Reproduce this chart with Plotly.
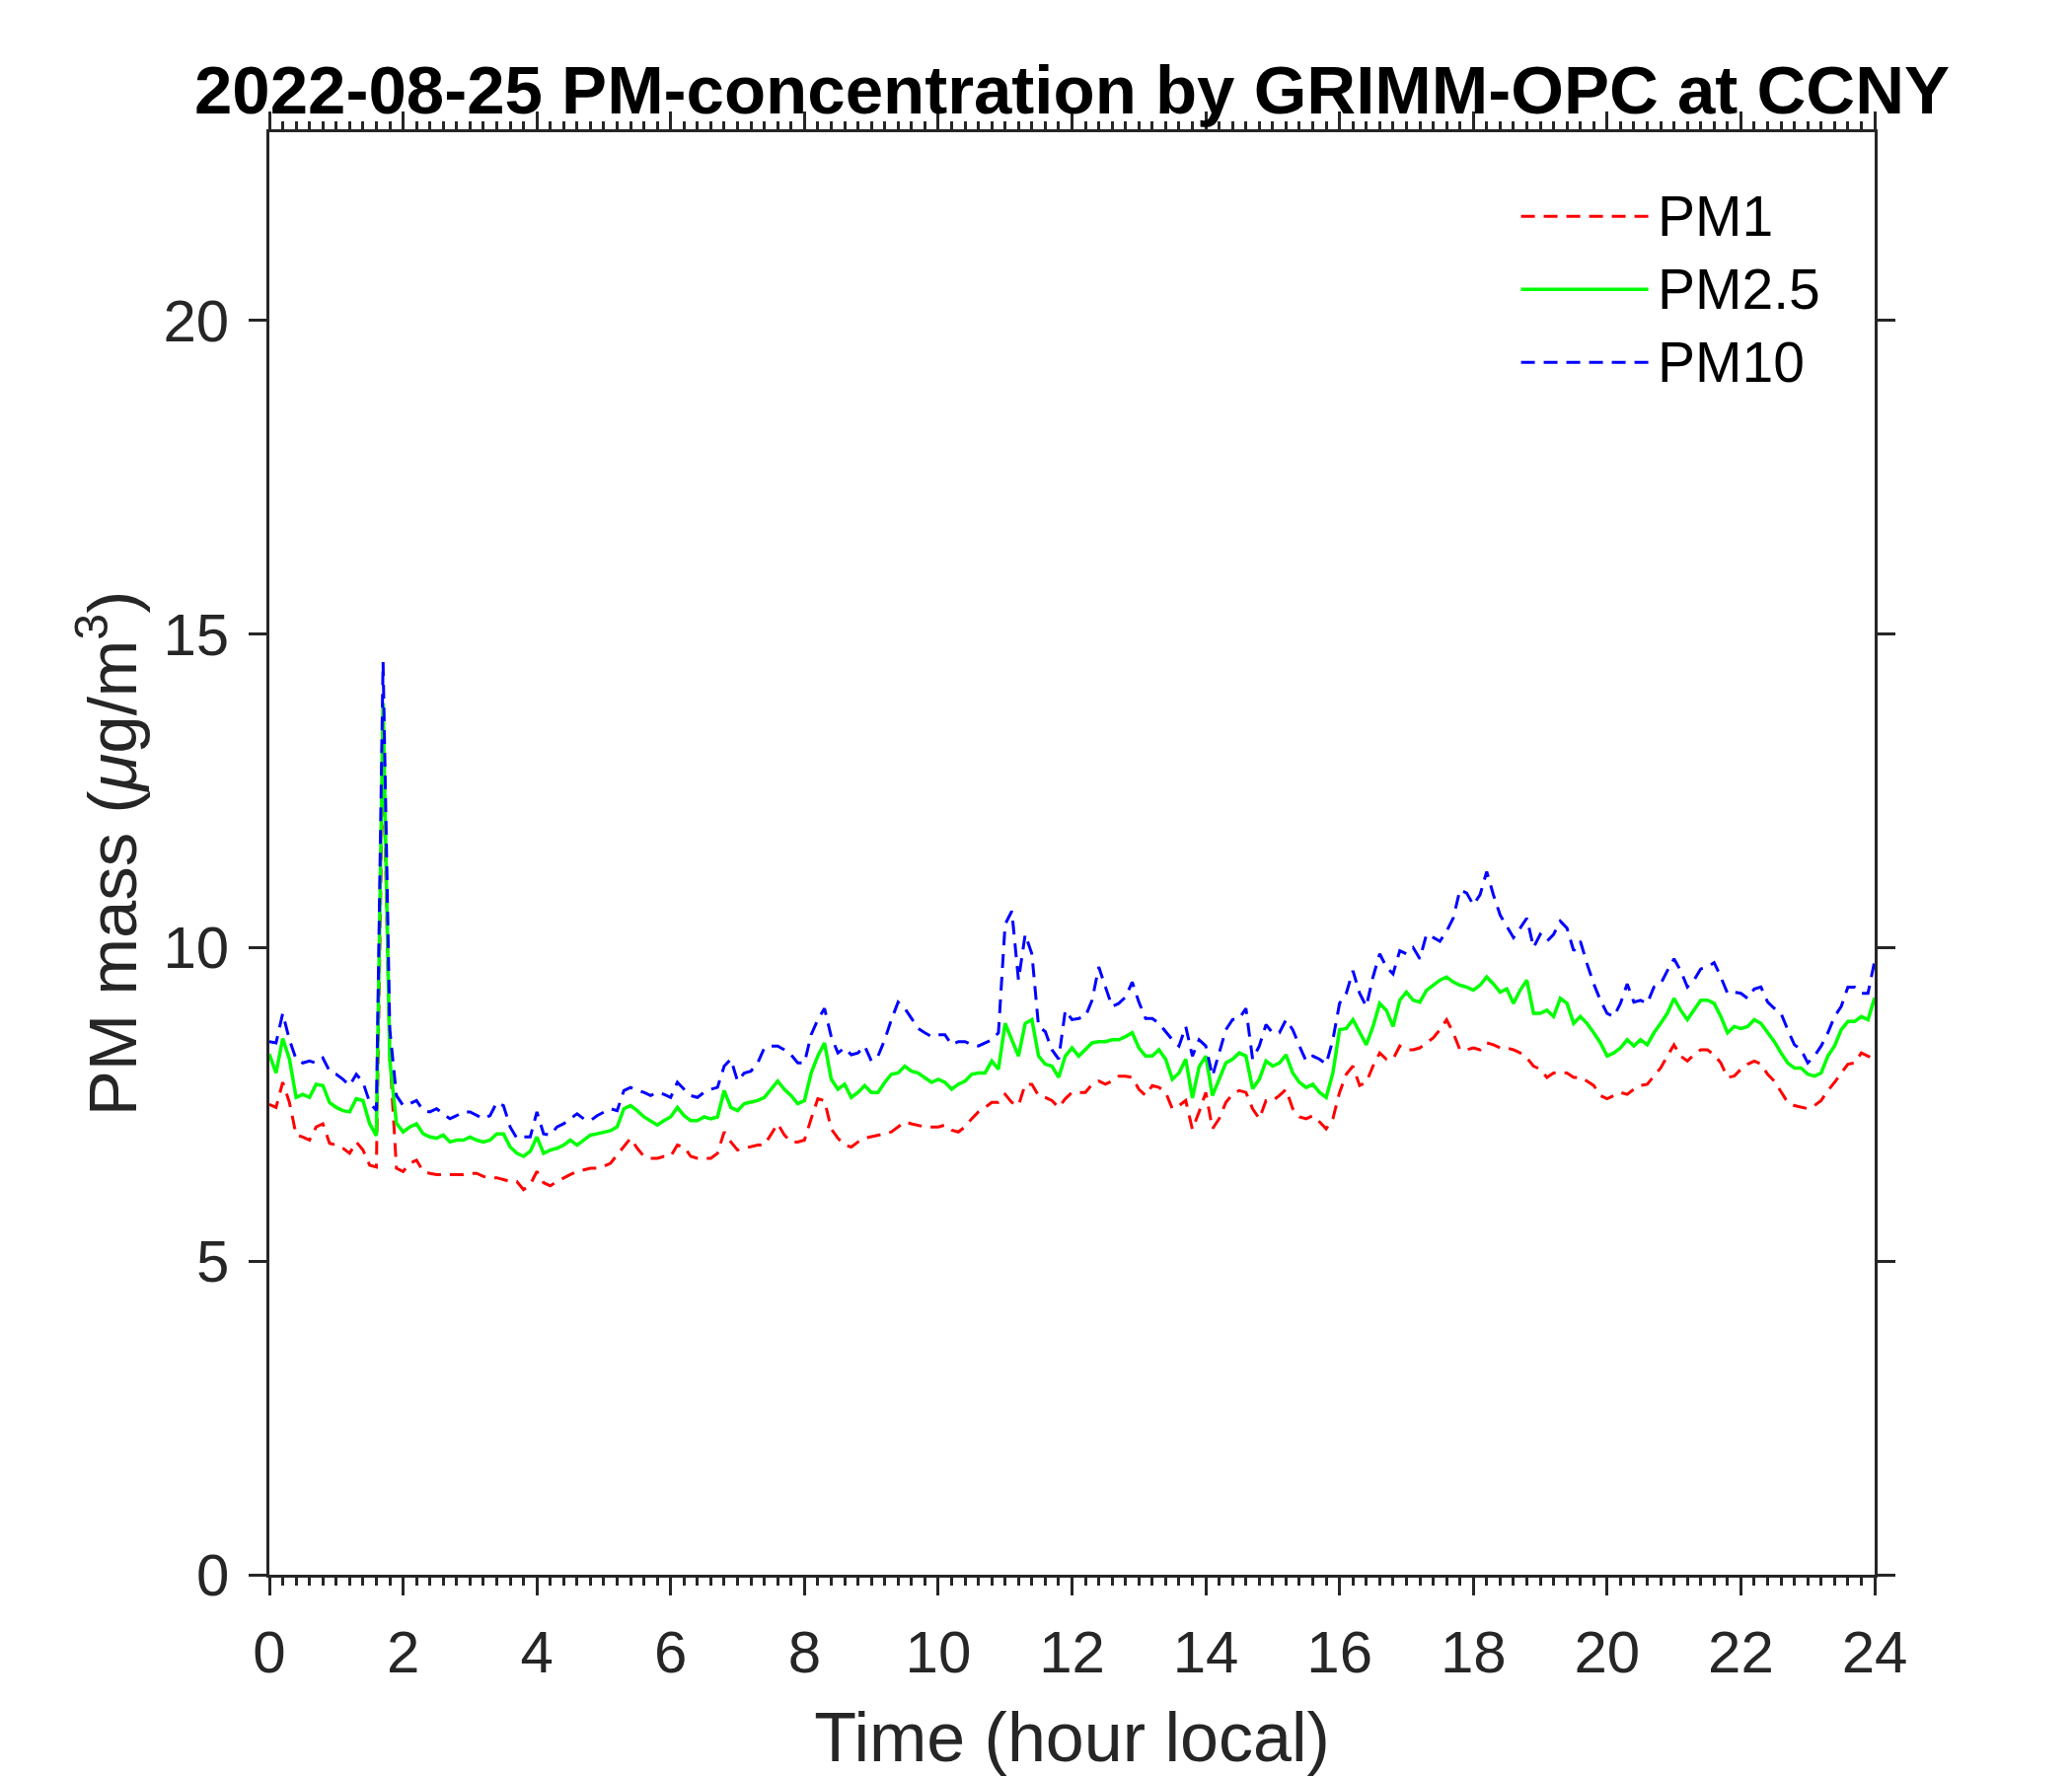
import numpy as np
import plotly.graph_objects as go

# Time axis (hour local), sampled every 0.1 h
hours = np.round(np.arange(0, 24.0001, 0.1), 1)

# PM1 mass (ug/m3), one row per hour (h.0 ... h.9)
pm1 = [
    7.5, 7.45, 7.85, 7.53, 7.01, 6.98, 6.93, 7.14, 7.19, 6.88,
    6.85, 6.8, 6.72, 6.9, 6.77, 6.53, 6.5, 13.3, 8.3, 6.48,
    6.43, 6.56, 6.61, 6.43, 6.4, 6.38, 6.38, 6.38, 6.38, 6.38,
    6.4, 6.4, 6.35, 6.33, 6.33, 6.3, 6.27, 6.27, 6.14, 6.22,
    6.43, 6.25, 6.2, 6.27, 6.33, 6.38, 6.43, 6.46, 6.48, 6.48,
    6.51, 6.56, 6.69, 6.82, 6.96, 6.8, 6.67, 6.64, 6.64, 6.67,
    6.67, 6.85, 6.82, 6.67, 6.64, 6.64, 6.64, 6.72, 7.06, 6.9,
    6.77, 6.8, 6.82, 6.85, 6.85, 7.01, 7.19, 7.01, 6.9, 6.9,
    6.93, 7.27, 7.59, 7.56, 7.11, 6.96, 6.85, 6.82, 6.9, 6.96,
    6.98, 7.01, 7.03, 7.06, 7.14, 7.22, 7.19, 7.17, 7.14, 7.14,
    7.14, 7.17, 7.09, 7.06, 7.14, 7.27, 7.38, 7.45, 7.53, 7.53,
    7.66, 7.53, 7.48, 7.82, 7.82, 7.64, 7.61, 7.56, 7.45, 7.59,
    7.69, 7.69, 7.69, 7.82, 7.87, 7.82, 7.87, 7.95, 7.95, 7.93,
    7.74, 7.64, 7.8, 7.77, 7.69, 7.43, 7.48, 7.56, 7.1, 7.38,
    7.69, 7.11, 7.27, 7.53, 7.66, 7.72, 7.69, 7.43, 7.27, 7.56,
    7.56, 7.64, 7.74, 7.43, 7.3, 7.27, 7.32, 7.22, 7.11, 7.27,
    7.69, 7.98, 8.11, 7.8, 7.85, 8.11, 8.32, 8.22, 8.22, 8.43,
    8.37, 8.37, 8.4, 8.48, 8.56, 8.69, 8.85, 8.64, 8.37, 8.37,
    8.4, 8.37, 8.48, 8.45, 8.4, 8.4, 8.37, 8.32, 8.24, 8.11,
    8.06, 7.93, 8.0, 8.0, 8.0, 7.93, 7.93, 7.87, 7.8, 7.64,
    7.59, 7.64, 7.69, 7.66, 7.74, 7.8, 7.82, 7.95, 8.08, 8.27,
    8.45, 8.27, 8.19, 8.29, 8.37, 8.37, 8.29, 8.16, 7.93, 7.95,
    8.06, 8.14, 8.19, 8.14, 7.98, 7.87, 7.69, 7.53, 7.48, 7.45,
    7.43, 7.48, 7.56, 7.72, 7.85, 8.0, 8.14, 8.16, 8.32, 8.27,
    8.22,
]

# PM2.5 mass (ug/m3)
pm25 = [
    8.3, 8.0, 8.55, 8.22, 7.61, 7.66, 7.61, 7.82, 7.8, 7.53,
    7.45, 7.4, 7.38, 7.59, 7.56, 7.19, 7.0, 13.9, 8.2, 7.2,
    7.06, 7.14, 7.19, 7.03, 6.98, 6.96, 7.01, 6.9, 6.93, 6.93,
    6.98, 6.93, 6.9, 6.93, 7.03, 7.03, 6.82, 6.72, 6.67, 6.75,
    6.98, 6.72, 6.77, 6.8, 6.85, 6.93, 6.85, 6.93, 7.01, 7.03,
    7.06, 7.08, 7.14, 7.43, 7.48, 7.4, 7.3, 7.24, 7.17, 7.24,
    7.3, 7.45, 7.32, 7.24, 7.24, 7.3, 7.27, 7.3, 7.72, 7.45,
    7.4, 7.51, 7.53, 7.56, 7.61, 7.74, 7.87, 7.74, 7.64, 7.51,
    7.56, 8.0, 8.27, 8.48, 7.9, 7.74, 7.82, 7.61, 7.69, 7.8,
    7.69, 7.69, 7.85, 7.98, 8.0, 8.11, 8.03, 8.0, 7.93, 7.85,
    7.9, 7.85, 7.74, 7.82, 7.87, 7.98, 8.0, 8.0, 8.19, 8.06,
    8.79, 8.53, 8.27, 8.79, 8.85, 8.27, 8.14, 8.11, 7.93, 8.27,
    8.4, 8.27, 8.37, 8.48, 8.5, 8.5, 8.53, 8.53, 8.58, 8.64,
    8.4, 8.27, 8.27, 8.37, 8.22, 7.9, 8.0, 8.22, 7.6, 8.1,
    8.27, 7.64, 7.9, 8.16, 8.22, 8.32, 8.27, 7.75, 7.9, 8.19,
    8.11, 8.16, 8.29, 8.0, 7.85, 7.77, 7.82, 7.69, 7.61, 8.0,
    8.69, 8.71, 8.85, 8.66, 8.45, 8.74, 9.11, 9.0, 8.74, 9.16,
    9.29, 9.16, 9.13, 9.32, 9.4, 9.48, 9.53, 9.45, 9.4, 9.37,
    9.32, 9.4, 9.53, 9.42, 9.29, 9.34, 9.11, 9.32, 9.48, 8.95,
    8.95, 9.0, 8.9, 9.19, 9.11, 8.79, 8.9, 8.79, 8.64, 8.48,
    8.27, 8.32, 8.4, 8.53, 8.43, 8.53, 8.45, 8.64, 8.79, 8.95,
    9.19, 9.0, 8.85, 9.0, 9.16, 9.16, 9.11, 8.9, 8.64, 8.74,
    8.71, 8.74, 8.85, 8.79, 8.64, 8.5, 8.32, 8.16, 8.08, 8.08,
    7.98, 7.95, 8.0, 8.27, 8.43, 8.69, 8.82, 8.82, 8.9, 8.85,
    9.2,
]

# PM10 mass (ug/m3)
pm10 = [
    8.5, 8.48, 8.95, 8.53, 8.22, 8.16, 8.19, 8.16, 8.24, 8.03,
    7.98, 7.9, 7.8, 7.98, 7.85, 7.53, 7.4, 14.55, 8.7, 7.64,
    7.48, 7.51, 7.56, 7.4, 7.38, 7.43, 7.35, 7.27, 7.32, 7.38,
    7.38, 7.32, 7.27, 7.32, 7.53, 7.48, 7.14, 6.96, 6.98, 6.98,
    7.38, 7.03, 7.01, 7.14, 7.19, 7.27, 7.35, 7.27, 7.24, 7.32,
    7.38, 7.43, 7.4, 7.72, 7.77, 7.72, 7.69, 7.64, 7.69, 7.66,
    7.61, 7.85, 7.74, 7.64, 7.61, 7.69, 7.74, 7.77, 8.11, 8.22,
    7.87, 8.0, 8.03, 8.16, 8.4, 8.43, 8.43, 8.37, 8.29, 8.16,
    8.16, 8.61, 8.85, 9.03, 8.58, 8.32, 8.4, 8.29, 8.32, 8.43,
    8.19, 8.27, 8.53, 8.85, 9.13, 9.03, 8.87, 8.71, 8.64, 8.58,
    8.61, 8.61, 8.45, 8.5, 8.5, 8.45, 8.43, 8.48, 8.53, 8.64,
    10.37, 10.58, 9.48, 10.21, 9.9, 8.74, 8.66, 8.37, 8.22, 9.0,
    8.85, 8.87, 8.9, 9.16, 9.69, 9.37, 9.06, 9.11, 9.21, 9.45,
    9.13, 8.87, 8.87, 8.79, 8.66, 8.53, 8.43, 8.74, 8.27, 8.53,
    8.43, 7.95, 8.32, 8.69, 8.85, 8.87, 9.03, 8.22, 8.43, 8.77,
    8.64, 8.64, 8.85, 8.69, 8.43, 8.19, 8.27, 8.22, 8.14, 8.53,
    9.11, 9.27, 9.63, 9.27, 9.06, 9.53, 9.9, 9.69, 9.58, 9.95,
    9.9, 10.0, 9.82, 10.21, 10.16, 10.1, 10.26, 10.47, 10.92, 10.87,
    10.68, 10.84, 11.21, 10.84, 10.52, 10.34, 10.16, 10.31, 10.47, 10.0,
    10.21, 10.1, 10.21, 10.42, 10.31, 9.95, 10.1, 9.74, 9.42, 9.16,
    8.95, 8.9, 9.11, 9.42, 9.13, 9.16, 9.11, 9.37, 9.42, 9.63,
    9.82, 9.63, 9.37, 9.48, 9.66, 9.69, 9.76, 9.53, 9.27, 9.29,
    9.27, 9.19, 9.34, 9.37, 9.13, 9.03, 8.95, 8.69, 8.45, 8.37,
    8.16, 8.27, 8.43, 8.64, 8.9, 9.06, 9.37, 9.37, 9.27, 9.27,
    9.79,
]

series_names = ["PM1", "PM2.5", "PM10"]
x_tickvals = [0, 2, 4, 6, 8, 10, 12, 14, 16, 18, 20, 22, 24]
y_tickvals = [0, 5, 10, 15, 20]

FONT = "Liberation Sans, Arial, Helvetica, sans-serif"
AX = "#262626"
DASH = "14px,9px"

styles = [
    dict(color="#FF0000", width=3, dash=DASH),
    dict(color="#00FF00", width=3.5, dash="solid"),
    dict(color="#0000FF", width=3, dash=DASH),
]

fig = go.Figure()
for name, vals, st in zip(series_names, [pm1, pm25, pm10], styles):
    fig.add_trace(go.Scatter(x=hours, y=vals, mode="lines", name=name,
                             line=st, showlegend=False))

axis_common = dict(
    showline=True, linecolor=AX, linewidth=2.5, mirror="allticks",
    ticks="outside", ticklen=18, tickwidth=2.5, tickcolor=AX,
    tickfont=dict(family=FONT, size=60, color=AX),
    showgrid=False, zeroline=False, automargin=False,
)

# page body has an 8px default margin, so the figure is 8px smaller
W, H = 2092, 1792
fig.update_layout(
    width=W, height=H,
    margin=dict(l=265, r=200, t=126, b=204),
    paper_bgcolor="white", plot_bgcolor="white",
    font=dict(family=FONT, color=AX),
    showlegend=False,
    title=dict(text="<b>2022-08-25 PM-concentration by GRIMM-OPC at CCNY</b>",
               font=dict(family=FONT, size=69, color="black"),
               x=0.5, xref="paper", xanchor="center",
               y=1 - 83 / H, yref="container", yanchor="middle"),
    xaxis=dict(range=[0, 24], tickvals=x_tickvals, ticklabelstandoff=6,
               minor=dict(dtick=0.2, tick0=0, ticks="outside", ticklen=8,
                          tickwidth=2.5, tickcolor=AX),
               title=dict(text="Time (hour local)", standoff=30,
                          font=dict(family=FONT, size=70, color=AX)),
               **axis_common),
    yaxis=dict(range=[0, 23], tickvals=y_tickvals, ticklabelstandoff=8,
               title=dict(text="PM mass (<i>\u03bc</i>g/m<sup>3</sup>)", standoff=5,
                          font=dict(family=FONT, size=69, color=AX)),
               **axis_common),
)

# Legend drawn at top right inside the axes (no box)
leg_y = [0.9417, 0.8910, 0.8404]
for name, st, yy in zip(series_names, styles, leg_y):
    fig.add_shape(type="line", xref="paper", yref="paper",
                  x0=0.7797, x1=0.8590, y0=yy, y1=yy,
                  line=dict(color=st["color"], width=st["width"], dash=st["dash"]))
    fig.add_annotation(text=name, xref="paper", yref="paper",
                       x=0.8633, y=yy, xanchor="left", yanchor="middle",
                       showarrow=False,
                       font=dict(family=FONT, size=57, color="black"))

fig.write_html("out.html")
